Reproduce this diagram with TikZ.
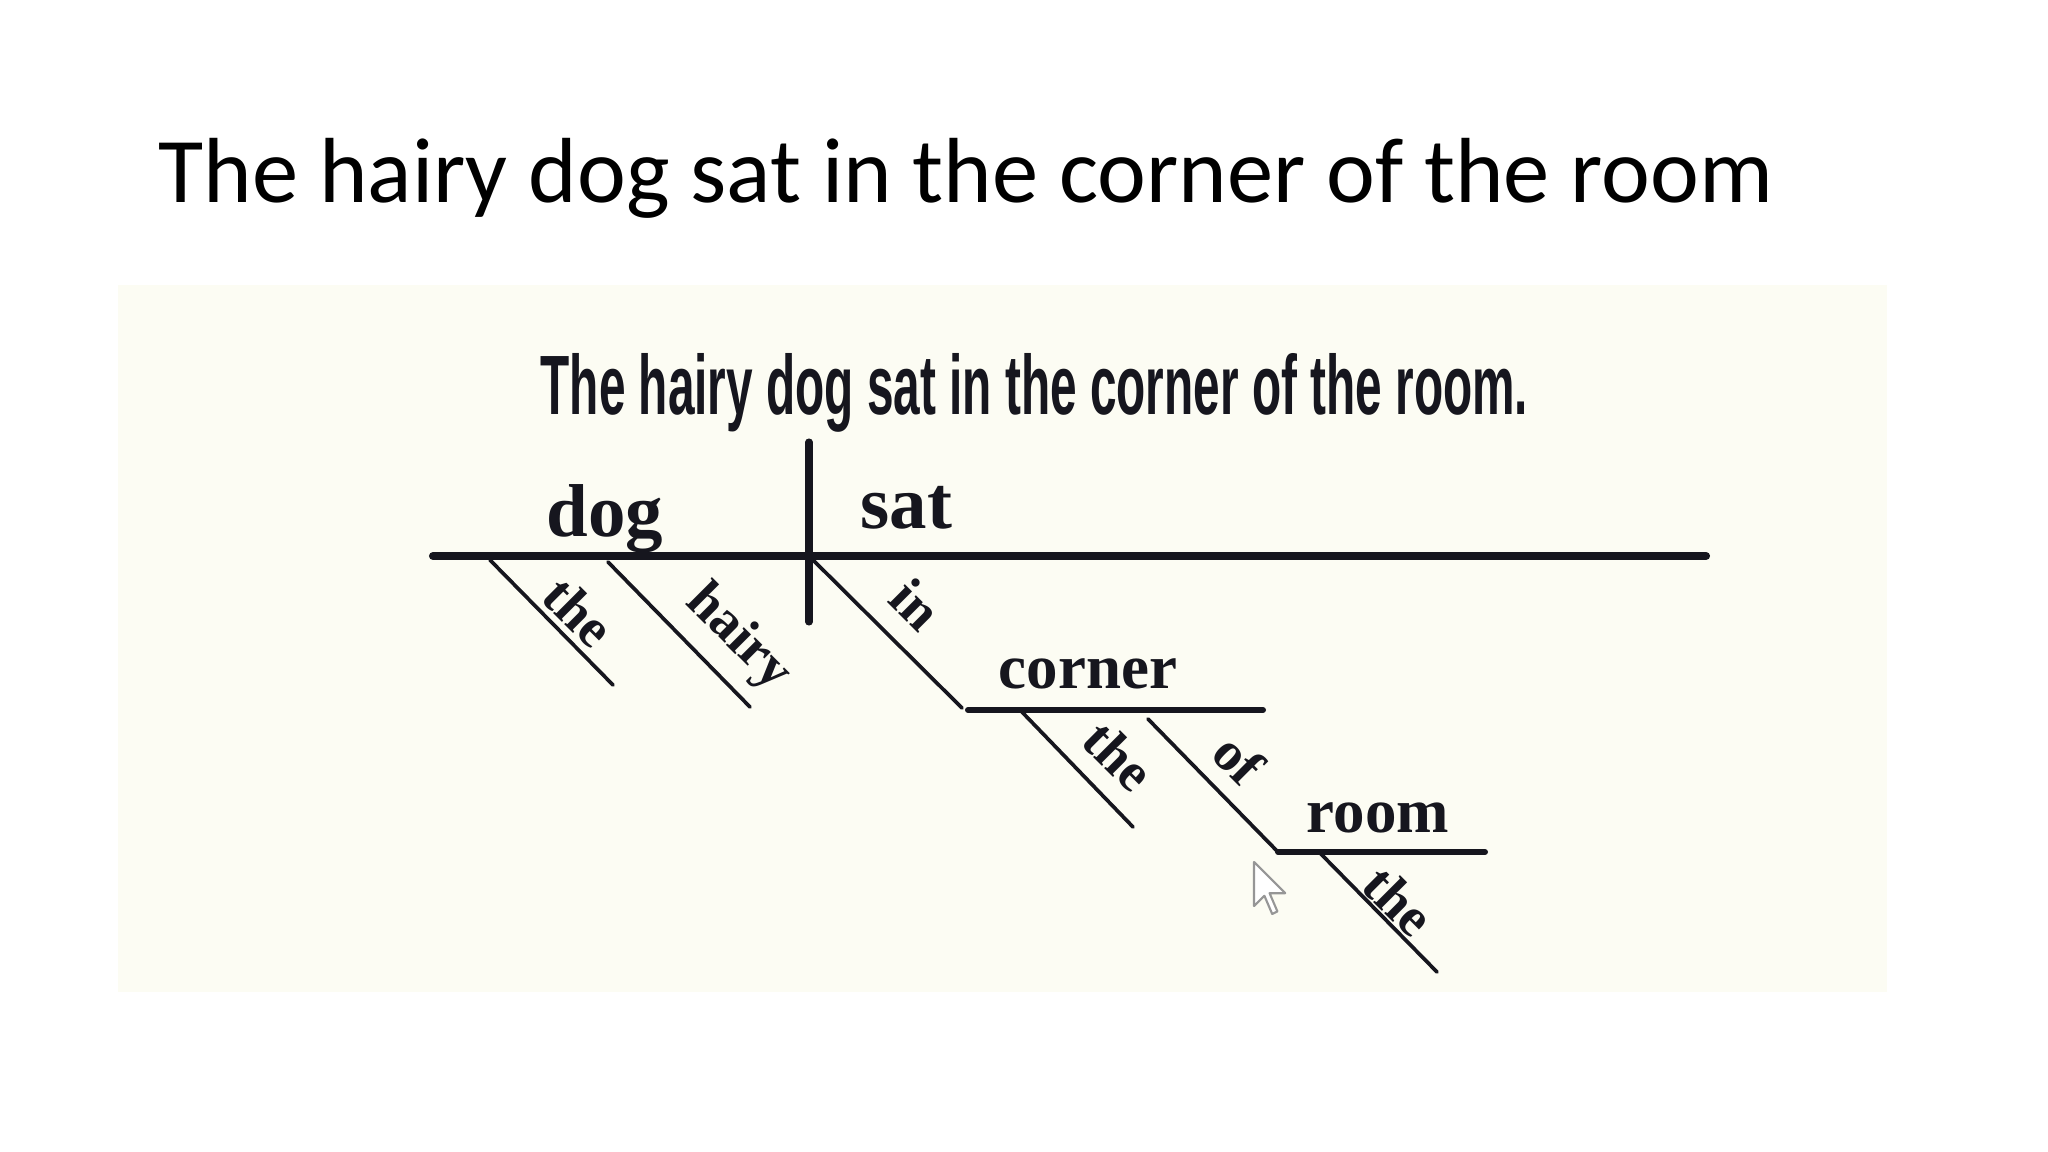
\documentclass[tikz,border=0pt]{standalone}
\usepackage{fontspec}
\usepackage{graphicx}
\newfontfamily\titlefont{Carlito}
\newfontfamily\subfont{Liberation Sans}
\newfontfamily\wordfont{Liberation Serif}
\definecolor{cream}{RGB}{252,252,243}
\definecolor{ink}{RGB}{22,22,30}
\definecolor{cursorgray}{RGB}{150,150,150}
\tikzset{
  mainline/.style={draw=ink, line width=2.3pt, line cap=round},
  stemline/.style={draw=ink, line width=2pt, line cap=round},
  subline/.style={draw=ink, line width=1.7pt, line cap=round},
  diagline/.style={draw=ink, line width=1.05pt, line cap=round},
  bigword/.style={inner sep=0pt, anchor=base west, text=ink, font=\wordfont\bfseries\fontsize{21.3}{24}\selectfont},
  midword/.style={inner sep=0pt, anchor=base west, text=ink, font=\wordfont\bfseries\fontsize{17.9}{21}\selectfont},
  slantword/.style={inner sep=0pt, anchor=center, rotate=-45, text=ink, font=\wordfont\bfseries\fontsize{15.6}{18}\selectfont},
}
\begin{document}
\begin{tikzpicture}[x=0.01cm,y=-0.01cm]
\useasboundingbox (0,0) rectangle (2048,1152);
\fill[white] (0,0) rectangle (2048,1152);
\fill[cream] (118,285) rectangle (1887,992);

% slide title
\node[inner sep=0pt, anchor=base west, font=\titlefont\fontsize{26.3}{31}\selectfont] (title) at (158,203) {The hairy dog sat in the corner of the room};

% sentence in the picture
\node[inner sep=0pt, anchor=base west, text=ink] (sentence) at (540,415)
  {\resizebox{9.87cm}{0.61cm}{\subfont\bfseries The hairy dog sat in the corner of the room.}};

% coordinates
\coordinate (mainL) at (433,556);
\coordinate (mainR) at (1706,556);
\coordinate (vt) at (809,442);
\coordinate (vb) at (809,622);
\coordinate (vx) at (809,556);
\coordinate (theAa) at (490,560);
\coordinate (theAb) at (613,685);
\coordinate (hairya) at (608,562);
\coordinate (hairyb) at (750,707);
\coordinate (inb) at (962,708);
\coordinate (cornL) at (968,710);
\coordinate (cornR) at (1263,710);
\coordinate (theBa) at (1022,712);
\coordinate (theBb) at (1133,827);
\coordinate (ofa) at (1148,719);
\coordinate (roomL) at (1278,852);
\coordinate (roomR) at (1485,852);
\coordinate (theCa) at (1320,853);
\coordinate (theCb) at (1437,972);

% lines
\draw[mainline] (mainL) -- (mainR);
\draw[stemline] (vt) -- (vb);
\draw[diagline] (theAa) -- (theAb);
\draw[diagline] (hairya) -- (hairyb);
\draw[diagline] (vx) -- (inb);
\draw[subline] (cornL) -- (cornR);
\draw[diagline] (theBa) -- (theBb);
\draw[diagline] (ofa) -- (roomL);
\draw[subline] (roomL) -- (roomR);
\draw[diagline] (theCa) -- (theCb);

% words
\node[bigword] (dog) at (546,537) {dog};
\node[bigword] (sat) at (860,528) {sat};
\node[midword] (corner) at (998,688) {corner};
\node[midword] (room) at (1306,832) {room};
\node[slantword] (theA) at (579,612) {the};
\node[slantword] (hairy) at (738,638) {hairy};
\node[slantword] (in) at (916,604) {in};
\node[slantword] (theB) at (1119,756) {the};
\node[slantword] (of) at (1239,759) {of};
\node[slantword] (theC) at (1399,901) {the};

% mouse pointer
\filldraw[fill=white, draw=cursorgray, line width=0.6pt, line join=round]
  (1254,862) -- (1254,906) -- (1264.4,895.8) -- (1272.2,914) -- (1277.4,911.4)
  -- (1269.6,893.2) -- (1285.2,893.2) -- cycle;
\end{tikzpicture}
\end{document}
